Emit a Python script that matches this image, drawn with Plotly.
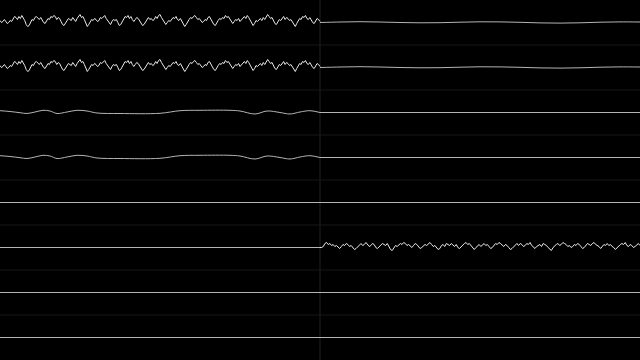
import numpy as np
import plotly.graph_objects as go
from plotly.subplots import make_subplots

# ---- data (amplitudes, up = positive) ----
noise_a = [2,0,1,3,1,-1,0,2,1,4,6,5,3,6,4,7,5,2,-2,-4,-3,0,3,2,5,6,4,3,5,2,0,-1,1,4,3,6,5,7,6,3,
           5,4,1,-2,-3,-1,2,4,3,2,5,3,1,4,6,8,5,6,3,-1,-4,-2,1,3,2,4,3,1,2,5,4,6,7,4,2,0,-2,1,3,2,
           3,0,-3,-2,1,4,6,5,7,4,6,3,1,3,5,4,2,-1,-3,-2,0,2,5,3,4,2,3,6,4,7,8,5,3,1,-2,0,2,1,3,5,
           4,6,3,2,4,1,-1,-4,-2,1,3,5,4,6,7,5,3,4,2,0,1,3,2,5,6,3,1,-2,-3,0,2,4,3,5,4,7,5,6,4,2,
           -1,1,3,2,4,1,3,5,6,4,7,5,2,0,-3,-1,2,1,3,4,2,5,3,6,8,6,4,5,2,-1,-2,0,3,2,4,6,3,5,4,2,
           3,1,-2,-4,-1,2,4,3,6,5,7,4,3,5,2,0,-1,2,4,3,1]
noise_b = [0,0,1,4,5,3,4,2,3,1,2,0,-1,1,3,2,4,3,1,2,0,-2,-1,1,3,4,2,3,5,3,1,2,4,3,0,-1,1,2,4,3,
           2,4,1,-2,-3,0,2,1,3,4,3,5,4,2,3,1,0,2,4,3,1,-1,0,2,3,2,4,5,3,1,2,0,-2,-1,2,3,1,4,3,2,
           4,2,1,3,0,-1,1,3,4,5,3,4,2,0,-2,0,2,3,1,3,4,2,3,1,-1,0,2,4,3,5,4,2,1,3,2,0,-2,-1,1,3,
           4,2,4,3,1,2,4,3,5,2,0,-1,1,2,3,1,4,3,2,0,-2,-3,0,2,3,4,2,3,5,4,3,1,2,0,1,3,2,4,3,1,
           -1,0,2,4,3,2,4,5,3,2,1,-1,1,3,2,4,2,3,1,0,-2,0,2,3,4,3,5,2,1,3,2,0,1,3,4,2]
slow_a_t = [320,340,360,380,400,420,440,460,480,500,520,540,560,580,600,620,640]
slow_a = [0,0.5,0.8,0.5,0,-0.3,-0.2,0.3,0.7,0.6,0.2,-0.4,-0.6,-0.3,0.3,0.6,0.5]
slow_b_t = [0,10,20,27,35,43,50,57,67,77,87,97,120,160,180,200,230,240,255,267,280,290,300,310,320]
slow_b = [1.8,1.0,-0.2,-1.0,0.5,2.2,1.5,-1.0,0.5,2.2,1.5,-0.5,-1.0,-0.8,1.8,2.2,2.2,1.5,-1.5,1.5,0,-1.5,0.5,1.8,0]

T_END = 640
T_SPLIT = 320
N_CH = 8
BRIGHT = '#ececec'
DIM = '#b4b4b4'


def seg_noise(vals, t0, t1):
    t = np.linspace(t0, t1, len(vals))
    return list(t), list(vals)


def flat(t0, t1):
    return [t0, t1], [0, 0]


channels = []
for ch in range(N_CH):
    if ch in (0, 1):
        t1, y1 = seg_noise(noise_a, 0, T_SPLIT)
        channels.append([(t1, y1, 'linear', BRIGHT), (slow_a_t, slow_a, 'spline', DIM)])
    elif ch in (2, 3):
        channels.append([(slow_b_t, slow_b, 'spline', DIM), (*flat(T_SPLIT, T_END), 'linear', DIM)])
    elif ch == 5:
        t2, y2 = seg_noise(noise_b, T_SPLIT, T_END)
        channels.append([(*flat(0, T_SPLIT), 'linear', DIM), (t2, y2, 'linear', BRIGHT)])
    else:
        channels.append([(*flat(0, T_END), 'linear', DIM)])

fig = make_subplots(rows=N_CH, cols=1, shared_xaxes=True, vertical_spacing=0)
for i, segs in enumerate(channels):
    for t, y, shape, col in segs:
        fig.add_trace(go.Scatter(x=t, y=y, mode='lines',
                                 line=dict(color=col, width=1, shape=shape),
                                 hoverinfo='skip', showlegend=False), row=i + 1, col=1)
    fig.update_yaxes(range=[-22.5, 22.5], visible=False, row=i + 1, col=1)
    fig.update_xaxes(range=[0, T_END], visible=False, row=i + 1, col=1)

shapes = []
for k in range(1, N_CH):
    shapes.append(dict(type='line', xref='paper', yref='paper', x0=0, x1=1, y0=k / N_CH, y1=k / N_CH,
                       line=dict(color='#161616', width=1), layer='below'))
shapes.append(dict(type='line', xref='paper', yref='paper', x0=0.5, x1=0.5, y0=0, y1=1,
                   line=dict(color='#202020', width=1), layer='below'))

fig.update_layout(width=640, height=360, margin=dict(l=0, r=0, t=0, b=0),
                  paper_bgcolor='black', plot_bgcolor='black', shapes=shapes)
fig.write_html("out.html")
